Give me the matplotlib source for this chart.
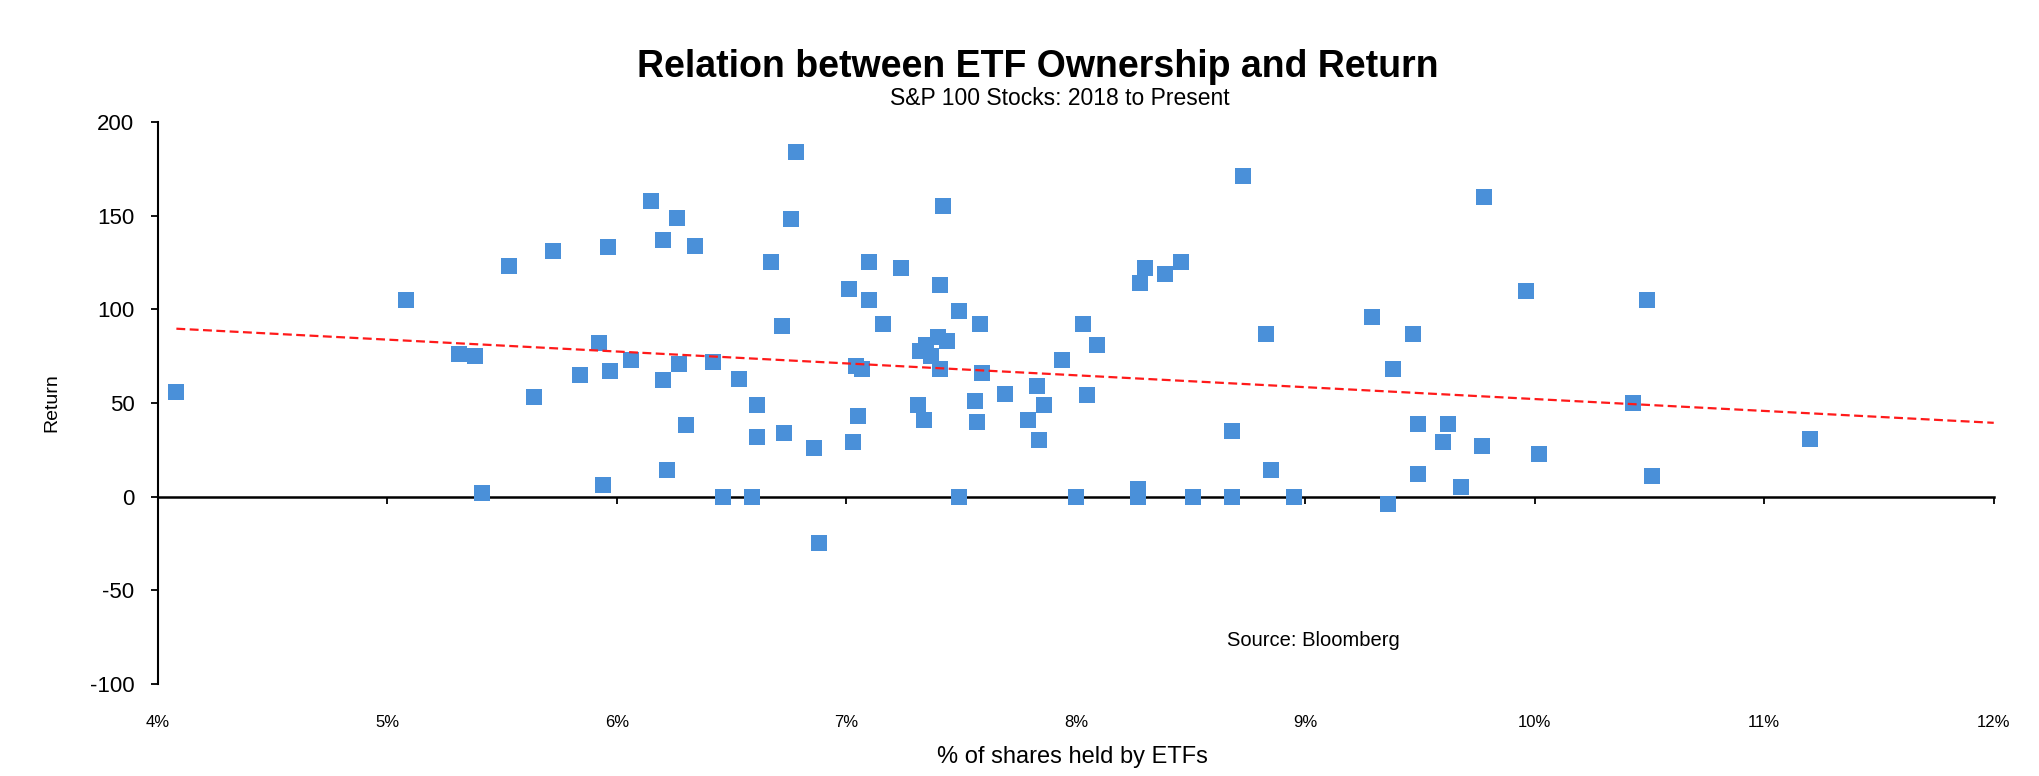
import numpy as np
import matplotlib
matplotlib.use("Agg")
import matplotlib.pyplot as plt
from matplotlib.ticker import FuncFormatter

plt.rcParams['font.family'] = ['Liberation Sans', 'DejaVu Sans']
plt.rcParams['axes.unicode_minus'] = False

# % of shares held by ETFs
etf_share = [4.08, 5.08, 5.31, 5.38, 5.41, 5.53, 5.64, 5.72, 5.84, 5.92,
             5.94, 5.96, 5.97, 6.06, 6.15, 6.20, 6.20, 6.22, 6.26, 6.27,
             6.30, 6.34, 6.42, 6.46, 6.53, 6.59, 6.61, 6.61, 6.67, 6.72,
             6.73, 6.76, 6.78, 6.86, 6.88, 7.01, 7.03, 7.04, 7.05, 7.07,
             7.10, 7.10, 7.16, 7.24, 7.31, 7.32, 7.34, 7.345, 7.37, 7.40,
             7.41, 7.41, 7.42, 7.44, 7.49, 7.49, 7.56, 7.57, 7.58, 7.59,
             7.69, 7.79, 7.83, 7.84, 7.86, 7.94, 8.00, 8.03, 8.05, 8.09,
             8.27, 8.27, 8.28, 8.30, 8.39, 8.46, 8.51, 8.68, 8.68, 8.73,
             8.83, 8.85, 8.95, 9.29, 9.36, 9.38, 9.47, 9.49, 9.49, 9.60,
             9.62, 9.68, 9.77, 9.78, 9.96, 10.02, 10.43, 10.49, 10.51, 11.20]
# Return
returns = [56, 105, 76, 75, 2, 123, 53, 131, 65, 82,
           6, 133, 67, 73, 158, 137, 62, 14, 149, 71,
           38, 134, 72, 0, 63, 0, 49, 32, 125, 91,
           34, 148, 184, 26, -25, 111, 29, 70, 43, 68,
           125, 105, 92, 122, 49, 78, 41, 81, 75, 85,
           113, 68, 155, 83, 99, 0, 51, 40, 92, 66,
           55, 41, 59, 30, 49, 73, 0, 92, 54, 81,
           0, 4, 114, 122, 119, 125, 0, 35, 0, 171,
           87, 14, 0, 96, -4, 68, 87, 39, 12, 29,
           39, 5, 27, 160, 110, 23, 50, 105, 11, 31]

x_ticks = [4, 5, 6, 7, 8, 9, 10, 11, 12]
y_ticks = [-100, -50, 0, 50, 100, 150, 200]

title = "Relation between ETF Ownership and Return"
subtitle = "S&P 100 Stocks: 2018 to Present"
x_label = "% of shares held by ETFs"
y_label = "Return"
source = "Source: Bloomberg"

fig = plt.figure(figsize=(20.39, 7.76), dpi=100)
ax = fig.add_axes([0.0775, 0.1186, 0.9003, 0.7242])

x = np.array(etf_share)
y = np.array(returns)
ax.plot(x, y, linestyle='none', marker='s', markersize=11.5,
        color='#4A90D9', markeredgewidth=0, zorder=3)

# linear trend line
slope, intercept = np.polyfit(x, y, 1)
xt = np.array([x.min(), x_ticks[-1]])
ax.plot(xt, slope * xt + intercept, color='#FF1A1A', lw=1.6,
        linestyle=(0, (4, 2)), zorder=4)

ax.set_xlim(x_ticks[0], x_ticks[-1])
ax.set_ylim(y_ticks[0], y_ticks[-1])
ax.set_yticks(y_ticks)
ax.set_xticks(x_ticks)

for s in ['top', 'right']:
    ax.spines[s].set_visible(False)
ax.spines['left'].set_linewidth(1.5)
ax.spines['bottom'].set_position(('data', 0))
ax.spines['bottom'].set_linewidth(1.8)
ax.tick_params(axis='x', direction='out', length=5, width=1.3,
               labelbottom=False)
ax.tick_params(axis='y', direction='out', length=5, width=1.3,
               labelsize=16, pad=12)

sec = ax.secondary_xaxis(0.0)
sec.set_xticks(x_ticks)
sec.xaxis.set_major_formatter(FuncFormatter(lambda v, p: f"{v:.0f}%"))
sec.spines['bottom'].set_visible(False)
sec.tick_params(axis='x', length=0, pad=22, labelsize=12)

ax.set_ylabel(y_label, fontsize=14)
ax.yaxis.set_label_coords(-0.0534, 0.5)

fig.text(0.526, 0.0245, x_label, ha='center', va='center', fontsize=17)
fig.text(0.509, 0.901, title, ha='center', va='baseline',
         fontsize=27, fontweight='bold')
fig.text(0.520, 0.865, subtitle, ha='center', va='baseline', fontsize=16.5)
fig.text(0.644, 0.175, source, ha='center', va='center', fontsize=14.5)

fig.savefig("out.png", dpi=100)
